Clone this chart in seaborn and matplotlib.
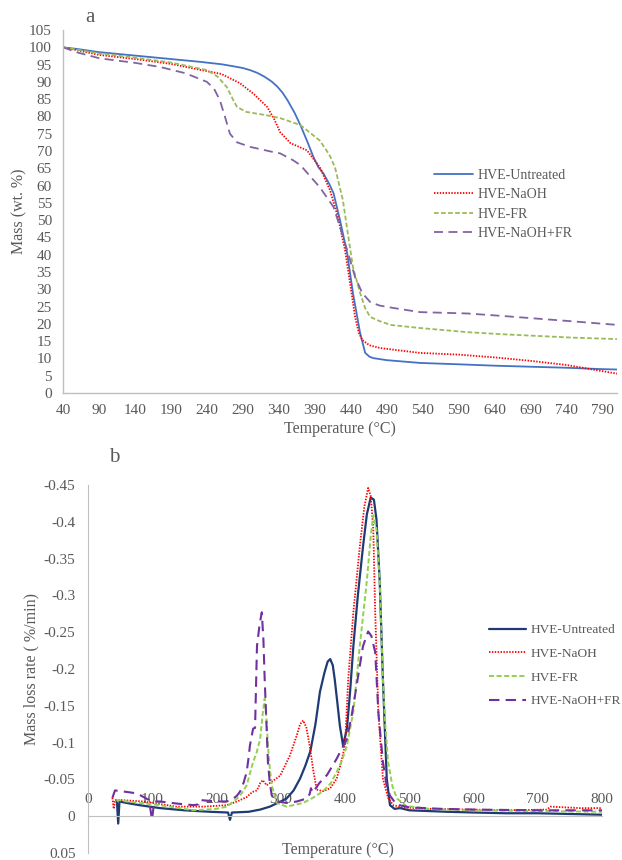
import matplotlib
matplotlib.use("Agg")
import matplotlib.pyplot as plt
import seaborn as sns

# ---------------- data: panel a (TGA mass, wt.%) ----------------
labels = ["HVE-Untreated", "HVE-NaOH", "HVE-FR", "HVE-NaOH+FR"]

a_T_untreated = [40, 60, 90, 140, 190, 230, 260, 277, 290, 300, 310, 320, 330, 338, 345, 352, 362, 371, 380,
                 388, 395, 402, 410, 416, 425, 435, 443, 453, 460, 466, 471, 490, 536, 590, 640, 690, 740, 790, 810]
a_M_untreated = [100, 99.5, 98.6, 97.6, 96.6, 95.8, 95.1, 94.5, 94.0, 93.4, 92.6, 91.5, 90.1, 88.6, 86.9, 84.7,
                 81, 77, 72.5, 68.3, 65.3, 63.5, 60.5, 57.8, 50, 40.4, 28.9, 17.3, 11.6, 10.5, 10.1, 9.5, 8.7,
                 8.3, 7.9, 7.6, 7.3, 6.9, 6.8]

a_T_naoh = [40, 90, 140, 190, 230, 260, 286, 305, 324, 334, 342, 356, 379, 397, 411, 422, 432, 439, 446,
            451, 456, 466, 481, 536, 590, 640, 690, 740, 790, 810]
a_M_naoh = [100, 97.8, 96.6, 95.2, 93.5, 92.3, 89.6, 86.5, 82.7, 79.0, 75.4, 72.3, 70.2, 65.3, 58.7, 51, 41.3,
            31.8, 22, 17.5, 15.3, 13.8, 13, 11.6, 11.1, 10.3, 9.3, 8.1, 6.3, 5.6]

a_T_fr = [40, 90, 140, 190, 240, 255, 268, 276, 282, 295, 324, 342, 370, 397, 410, 418, 429, 436, 443,
          453, 460, 467, 480, 495, 536, 602, 650, 700, 750, 810]
a_M_fr = [100, 98.2, 97, 95.6, 93.4, 91.5, 88.4, 85, 82.7, 81.3, 80.3, 79.5, 77.5, 73, 69, 65.3, 55.8, 46, 36.4,
          28.9, 24.5, 22, 20.8, 19.7, 18.8, 17.6, 17, 16.5, 16, 15.6]

a_T_naohfr = [40, 60, 91, 140, 175, 210, 240, 250, 258, 265, 272, 282, 300, 332, 342, 360, 370, 397, 416,
              425, 435, 446, 456, 467, 480, 499, 536, 602, 650, 700, 750, 810]
a_M_naohfr = [100, 98.5, 96.8, 95.5, 94.3, 92.5, 90, 88, 84.7, 80, 75, 72.5, 71.2, 69.7, 69.3, 67.3, 65.9, 59.5,
              53.8, 48, 41.3, 33.5, 28.9, 26.3, 25.3, 24.6, 23.4, 23, 22.3, 21.5, 20.7, 19.7]

a_xticks = list(range(40, 791, 50))
a_yticks = list(range(0, 106, 5))

# ---------------- data: panel b (DTG, %/min) ----------------
b_T_untreated = [45, 47, 49, 60, 80, 112, 150, 190, 218, 221, 224, 250, 268, 283, 300, 309, 320, 330, 338,
                 346, 354, 361, 368, 373, 377, 381, 384, 388, 392, 397, 403, 408, 413, 420, 428, 434, 440,
                 445, 449, 454, 459, 465, 470, 477, 486, 500, 530, 559, 600, 650, 700, 750, 800]
b_v_untreated = [-0.02, 0.01, -0.02, -0.018, -0.015, -0.011, -0.008, -0.006, -0.005, 0.005, -0.005, -0.006,
                 -0.009, -0.013, -0.02, -0.024, -0.035, -0.051, -0.068, -0.088, -0.125, -0.169, -0.195, -0.21,
                 -0.2135, -0.205, -0.186, -0.155, -0.123, -0.096, -0.119, -0.17, -0.231, -0.3, -0.366, -0.41,
                 -0.433, -0.43, -0.403, -0.32, -0.186, -0.051, -0.015, -0.01, -0.011, -0.008, -0.007, -0.006,
                 -0.005, -0.004, -0.004, -0.003, -0.002]

b_T_naoh = [38, 40, 42, 50, 86, 138, 180, 216, 232, 247, 256, 263, 268, 272, 278, 288, 299, 314, 325, 330,
            335, 340, 345, 351, 356, 366, 377, 387, 393, 400, 405, 413, 423, 430, 436, 440, 444, 447, 452,
            459, 467, 475, 490, 530, 600, 650, 714, 720, 766, 800]
b_v_naoh = [-0.025, -0.01, -0.022, -0.022, -0.02, -0.013, -0.013, -0.015, -0.02, -0.026, -0.033, -0.035,
            -0.045, -0.049, -0.042, -0.048, -0.055, -0.082, -0.11, -0.125, -0.13, -0.12, -0.096, -0.06,
            -0.036, -0.034, -0.038, -0.051, -0.07, -0.096, -0.186, -0.277, -0.366, -0.42, -0.446, -0.435,
            -0.39, -0.277, -0.14, -0.051, -0.025, -0.015, -0.012, -0.01, -0.009, -0.008, -0.009, -0.013,
            -0.011, -0.011]

b_T_fr = [45, 47, 60, 112, 164, 200, 216, 232, 240, 247, 252, 257, 262, 268, 272, 275, 278, 280, 283, 286,
          294, 309, 335, 350, 366, 378, 387, 395, 403, 413, 423, 434, 440, 444, 449, 454, 459, 463, 467,
          474, 481, 495, 530, 600, 700, 800]
b_v_fr = [-0.02, -0.022, -0.02, -0.015, -0.008, -0.01, -0.013, -0.024, -0.032, -0.042, -0.058, -0.074,
          -0.085, -0.105, -0.14, -0.16, -0.13, -0.096, -0.065, -0.042, -0.018, -0.013, -0.018, -0.025,
          -0.034, -0.045, -0.06, -0.075, -0.096, -0.142, -0.231, -0.32, -0.38, -0.409, -0.39, -0.32,
          -0.186, -0.12, -0.074, -0.04, -0.024, -0.014, -0.01, -0.008, -0.007, -0.006]

b_T_naohfr = [38, 42, 60, 76, 95, 99.6, 103, 112, 140, 164, 172, 174, 200, 216, 225, 232, 237, 242, 247,
              250, 252, 255, 257, 260, 263, 267, 270.5, 273, 275, 278, 280, 283, 286, 295, 309, 325, 340,
              345, 347, 350, 360, 372, 387, 403, 410, 418, 428, 436, 441, 447, 452, 459, 465, 470, 480,
              500, 550, 600, 700, 800]
b_v_naohfr = [-0.025, -0.035, -0.033, -0.031, -0.022, 0.005, -0.02, -0.02, -0.017, -0.015, -0.016, -0.022,
              -0.02, -0.02, -0.023, -0.028, -0.034, -0.045, -0.06, -0.08, -0.096, -0.11, -0.119, -0.12,
              -0.231, -0.26, -0.277, -0.24, -0.186, -0.12, -0.074, -0.045, -0.028, -0.02, -0.018, -0.02,
              -0.024, -0.03, -0.038, -0.032, -0.045, -0.056, -0.078, -0.105, -0.135, -0.177, -0.231,
              -0.251, -0.245, -0.223, -0.14, -0.074, -0.04, -0.028, -0.016, -0.012, -0.01, -0.009,
              -0.008, -0.008]

b_xticks = list(range(0, 801, 100))
b_yticks = [-0.45, -0.4, -0.35, -0.3, -0.25, -0.2, -0.15, -0.1, -0.05, 0, 0.05]
b_yticklabels = ["-0.45", "-0.4", "-0.35", "-0.3", "-0.25", "-0.2", "-0.15", "-0.1", "-0.05", "0", "0.05"]

# ---------------- style ----------------
sns.set_style("white")
plt.rcParams['font.family'] = ['Liberation Serif', 'DejaVu Serif']
TXT = '#595959'
AXC = '#BFBFBF'

a_colors = ['#4472C4', '#FF0000', '#9BBB59', '#8064A2']
b_colors = ['#1F3B73', '#FF0000', '#92D050', '#7030A0']
styles = ['-', (0, (0.8, 0.8)), (0, (2.6, 1.3)), (0, (5, 3))]

fig = plt.figure(figsize=(6.22, 8.6), dpi=100)
ax1 = fig.add_axes([63 / 622, 1 - 393 / 860, (617 - 63) / 622, 363 / 860])
ax2 = fig.add_axes([88 / 622, 1 - 853 / 860, (602 - 88) / 622, 368 / 860])

a_series = [(a_T_untreated, a_M_untreated), (a_T_naoh, a_M_naoh), (a_T_fr, a_M_fr), (a_T_naohfr, a_M_naohfr)]
for (T, M), lab, c, ls in zip(a_series, labels, a_colors, styles):
    sns.lineplot(x=T, y=M, ax=ax1, color=c, linestyle=ls, linewidth=1.3, label=lab,
                 estimator=None, sort=False)

b_series = [(b_T_untreated, b_v_untreated), (b_T_naoh, b_v_naoh), (b_T_fr, b_v_fr), (b_T_naohfr, b_v_naohfr)]
b_lw = [1.6, 1.3, 1.4, 1.5]
for (T, v), lab, c, ls, lw in zip(b_series, labels, b_colors, styles, b_lw):
    sns.lineplot(x=T, y=v, ax=ax2, color=c, linestyle=ls, linewidth=lw, label=lab,
                 estimator=None, sort=False)

# ---- axes a ----
ax1.set_xlim(40, 810)
ax1.set_ylim(0, 105)
ax1.set_xticks(a_xticks)
ax1.set_yticks(a_yticks)
ax1.tick_params(length=0, labelsize=11, colors=TXT, pad=8)
for s in ['top', 'right']:
    ax1.spines[s].set_visible(False)
for s in ['left', 'bottom']:
    ax1.spines[s].set_color(AXC)
    ax1.spines[s].set_linewidth(1.0)
ax1.set_xlabel("Temperature (°C)", fontsize=11.5, color=TXT, labelpad=3)
ax1.set_ylabel("Mass (wt. %)", fontsize=11.5, color=TXT, labelpad=1)
ax1.legend(loc='upper left', bbox_to_anchor=(434 / 622, 1 - 169 / 860), bbox_transform=fig.transFigure,
           frameon=False, fontsize=10, handlelength=2.8, handletextpad=0.3, labelspacing=0.45,
           borderpad=0, borderaxespad=0, labelcolor=TXT)

# ---- axes b ----
ax2.set_xlim(0, 800)
ax2.set_ylim(0.05, -0.45)
ax2.set_yticks(b_yticks)
ax2.set_yticklabels(b_yticklabels)
ax2.xaxis.tick_top()
ax2.set_xticks(b_xticks)
ax2.tick_params(length=0, labelsize=11, colors=TXT)
ax2.tick_params(axis='x', pad=7)
ax2.tick_params(axis='y', pad=9)
ax2.spines['bottom'].set_visible(False)
ax2.spines['right'].set_visible(False)
ax2.spines['top'].set_position(('data', 0))
ax2.spines['top'].set_color(AXC)
ax2.spines['left'].set_color(AXC)
ax2.set_xlabel("")
ax2.set_ylabel("Mass loss rate ( %/min)", fontsize=11.5, color=TXT, labelpad=3)
fig.text(338 / 622, 1 - 850 / 860, "Temperature (°C)", ha='center', va='center', fontsize=11.5, color=TXT)
ax2.legend(loc='upper left', bbox_to_anchor=(489 / 622, 1 - 624 / 860), bbox_transform=fig.transFigure,
           frameon=False, fontsize=9.6, handlelength=2.8, handletextpad=0.3, labelspacing=0.85,
           borderpad=0, borderaxespad=0, labelcolor=TXT)

fig.text(90 / 622, 1 - 18 / 860, "a", ha='center', va='center', fontsize=15, color=TXT)
fig.text(114 / 622, 1 - 458 / 860, "b", ha='center', va='center', fontsize=15, color=TXT)

fig.savefig("out.png", dpi=100)
